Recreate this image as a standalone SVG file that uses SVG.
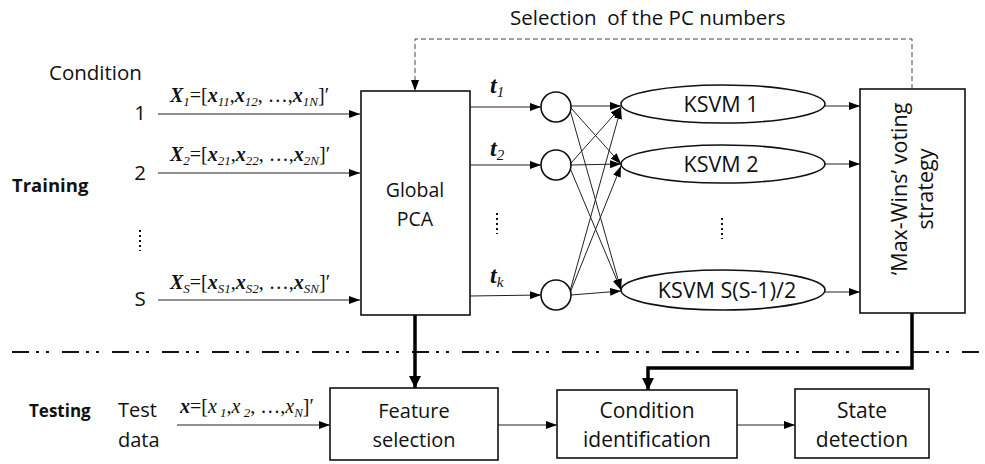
<svg xmlns="http://www.w3.org/2000/svg" width="985" height="464" viewBox="0 0 985 464">
  <defs>
    <marker id="arr" markerUnits="userSpaceOnUse" markerWidth="11" markerHeight="8" refX="11" refY="4" orient="auto">
      <path d="M0,0 L11,4 L0,8 z" fill="#000"/>
    </marker>
    <marker id="arrBig" markerUnits="userSpaceOnUse" markerWidth="12" markerHeight="12" refX="12" refY="6" orient="auto">
      <path d="M0,0 L12,6 L0,12 z" fill="#000"/>
    </marker>
    <style>
      .sans { font-family: "Open Sans", "Noto Sans", sans-serif; fill: #111; }
      .lbl { font-size: 20.5px; }
      .node { font-size: 21px; }
      .bold { font-weight: bold; }
      .box { fill: #fff; stroke: #111; stroke-width: 1.6; }
      .ell { fill: #fff; stroke: #111; stroke-width: 1.6; }
      .thin { stroke: #222; stroke-width: 1; fill: none; marker-end: url(#arr); }
      .thick { stroke: #000; stroke-width: 3.5; fill: none; }
      .math { font-family: "Liberation Serif", "Times New Roman", serif; font-size: 20px; fill: #111; }
      .tl { font-size: 24px; }
      .bi { font-weight: bold; font-style: italic; }
      .it { font-style: italic; }
      .sub { font-size: 13px; font-style: italic; }
      .tsub { font-size: 15px; font-style: italic; }
      .dots { stroke: #111; stroke-width: 2; stroke-dasharray: 2 3; }
    </style>
  </defs>

  <!-- side labels -->
  <text class="sans lbl" x="49" y="80">Condition</text>
  <text class="sans bold" font-size="18.5" x="12" y="192">Training</text>
  <text class="sans bold" font-size="17" x="29" y="417">Testing</text>
  <text class="sans lbl" x="140" y="120" text-anchor="middle">1</text>
  <text class="sans lbl" x="140" y="180" text-anchor="middle">2</text>
  <text class="sans lbl" x="140" y="306" text-anchor="middle">S</text>
  <line class="dots" x1="140" y1="230" x2="140" y2="251"/>
  <text class="sans lbl" x="510" y="25" xml:space="preserve">Selection  of the PC numbers</text>

  <!-- input vectors -->
  <text class="math" x="170" y="102"><tspan class="bi">X</tspan><tspan class="sub" dy="4">1</tspan><tspan dy="-4">=[</tspan><tspan class="bi">x</tspan><tspan class="sub" dy="4">11</tspan><tspan dy="-4">,</tspan><tspan class="bi">x</tspan><tspan class="sub" dy="4">12</tspan><tspan dy="-4">, …,</tspan><tspan class="bi">x</tspan><tspan class="sub" dy="4">1N</tspan><tspan dy="-4">]′</tspan></text>
  <text class="math" x="170" y="161"><tspan class="bi">X</tspan><tspan class="sub" dy="4">2</tspan><tspan dy="-4">=[</tspan><tspan class="bi">x</tspan><tspan class="sub" dy="4">21</tspan><tspan dy="-4">,</tspan><tspan class="bi">x</tspan><tspan class="sub" dy="4">22</tspan><tspan dy="-4">, …,</tspan><tspan class="bi">x</tspan><tspan class="sub" dy="4">2N</tspan><tspan dy="-4">]′</tspan></text>
  <text class="math" x="170" y="289"><tspan class="bi">X</tspan><tspan class="sub" dy="4">S</tspan><tspan dy="-4">=[</tspan><tspan class="bi">x</tspan><tspan class="sub" dy="4">S1</tspan><tspan dy="-4">,</tspan><tspan class="bi">x</tspan><tspan class="sub" dy="4">S2</tspan><tspan dy="-4">, …,</tspan><tspan class="bi">x</tspan><tspan class="sub" dy="4">SN</tspan><tspan dy="-4">]′</tspan></text>
  <text class="math" x="180" y="413"><tspan class="bi">x</tspan><tspan>=[</tspan><tspan class="it">x</tspan><tspan class="sub" dy="4"> 1</tspan><tspan dy="-4">,</tspan><tspan class="it">x</tspan><tspan class="sub" dy="4"> 2</tspan><tspan dy="-4">, …,</tspan><tspan class="it">x</tspan><tspan class="sub" dy="4">N</tspan><tspan dy="-4">]′</tspan></text>

  <!-- component labels -->
  <text class="math tl" x="490" y="93"><tspan class="bi">t</tspan><tspan class="tsub" dy="4">1</tspan></text>
  <text class="math tl" x="490" y="156"><tspan class="bi">t</tspan><tspan class="tsub" dy="4">2</tspan></text>
  <text class="math tl" x="490" y="283"><tspan class="bi">t</tspan><tspan class="tsub" dy="4">k</tspan></text>
  <line class="dots" x1="497" y1="213" x2="497" y2="234"/>
  <line class="dots" x1="722" y1="218" x2="722" y2="239"/>

  <!-- training / testing separator -->
  <line x1="12" y1="352" x2="985" y2="352" stroke="#111" stroke-width="2" stroke-dasharray="17 7 3 7 3 13"/>

  <g id="connectors">
    <line class="thin" x1="158" y1="114" x2="360" y2="114"/>
    <line class="thin" x1="158" y1="173" x2="360" y2="173"/>
    <line class="thin" x1="158" y1="300" x2="360" y2="300"/>
    <line class="thin" x1="470" y1="107" x2="541" y2="107"/>
    <line class="thin" x1="470" y1="165" x2="541" y2="165"/>
    <line class="thin" x1="470" y1="296" x2="541" y2="295"/>
    <!-- every score feeds every pairwise classifier -->
    <line class="thin" x1="571" y1="106" x2="621" y2="106"/>
    <line class="thin" x1="571" y1="108" x2="621" y2="164"/>
    <line class="thin" x1="570" y1="110" x2="621" y2="290"/>
    <line class="thin" x1="571" y1="163" x2="621" y2="107"/>
    <line class="thin" x1="571" y1="165" x2="621" y2="164"/>
    <line class="thin" x1="570" y1="168" x2="621" y2="290"/>
    <line class="thin" x1="570" y1="291" x2="621" y2="108"/>
    <line class="thin" x1="570" y1="293" x2="621" y2="166"/>
    <line class="thin" x1="571" y1="295" x2="621" y2="291"/>
    <line class="thin" x1="825" y1="106" x2="860" y2="106"/>
    <line class="thin" x1="825" y1="164" x2="860" y2="164"/>
    <line class="thin" x1="825" y1="292" x2="860" y2="292"/>
    <!-- feedback of the number of PCs -->
    <path d="M912,89 V39 H415 V91" stroke="#444" stroke-width="1" fill="none" stroke-dasharray="5 3" marker-end="url(#arr)"/>
    <!-- testing path -->
    <path class="thick" d="M415,315 V388" marker-end="url(#arrBig)"/>
    <path class="thick" d="M912,313 V368 H648 V390" marker-end="url(#arrBig)"/>
    <line class="thin" x1="177" y1="425" x2="330" y2="425"/>
    <line class="thin" x1="498" y1="425" x2="557" y2="425"/>
    <line class="thin" x1="737" y1="425" x2="795" y2="425"/>
  </g>

  <g id="global-pca">
    <rect class="box" x="361" y="91" width="109" height="224"/>
    <text class="sans" font-size="19.5" x="415" y="197" text-anchor="middle">Global</text>
    <text class="sans" font-size="19.5" x="415" y="226" text-anchor="middle">PCA</text>
  </g>

  <g id="score-1"><circle class="ell" cx="556" cy="107" r="15"/></g>
  <g id="score-2"><circle class="ell" cx="556" cy="165" r="15"/></g>
  <g id="score-k"><circle class="ell" cx="556" cy="295" r="15"/></g>

  <g id="ksvm-1">
    <ellipse class="ell" cx="723" cy="104" rx="102" ry="19"/>
    <text class="sans" font-size="21.5" x="721" y="112" text-anchor="middle">KSVM 1</text>
  </g>
  <g id="ksvm-2">
    <ellipse class="ell" cx="723" cy="164" rx="102" ry="19"/>
    <text class="sans" font-size="21.5" x="721" y="172" text-anchor="middle">KSVM 2</text>
  </g>
  <g id="ksvm-n">
    <ellipse class="ell" cx="723" cy="290" rx="102" ry="20"/>
    <text class="sans" font-size="21.5" x="727" y="298" text-anchor="middle">KSVM S(S-1)/2</text>
  </g>

  <g id="max-wins">
    <rect class="box" x="860" y="89" width="105" height="224"/>
    <text class="sans" font-size="21.5" transform="translate(907,189) rotate(-90)" text-anchor="middle">‘Max-Wins’ voting</text>
    <text class="sans" font-size="21.5" transform="translate(933,189) rotate(-90)" text-anchor="middle">strategy</text>
  </g>

  <g id="test-data">
    <text class="sans" font-size="20" x="118" y="417">Test</text>
    <text class="sans" font-size="20" x="118" y="447">data</text>
  </g>

  <g id="feature-selection">
    <rect class="box" x="330" y="388" width="168" height="72"/>
    <text class="sans" font-size="20" x="414" y="418" text-anchor="middle">Feature</text>
    <text class="sans" font-size="20" x="414" y="447" text-anchor="middle">selection</text>
  </g>
  <g id="condition-identification">
    <rect class="box" x="557" y="390" width="180" height="68"/>
    <text class="sans node" x="647" y="418" text-anchor="middle">Condition</text>
    <text class="sans node" x="647" y="447" text-anchor="middle">identification</text>
  </g>
  <g id="state-detection">
    <rect class="box" x="795" y="389" width="134" height="69"/>
    <text class="sans node" x="862" y="418" text-anchor="middle">State</text>
    <text class="sans node" x="862" y="447" text-anchor="middle">detection</text>
  </g>
</svg>
